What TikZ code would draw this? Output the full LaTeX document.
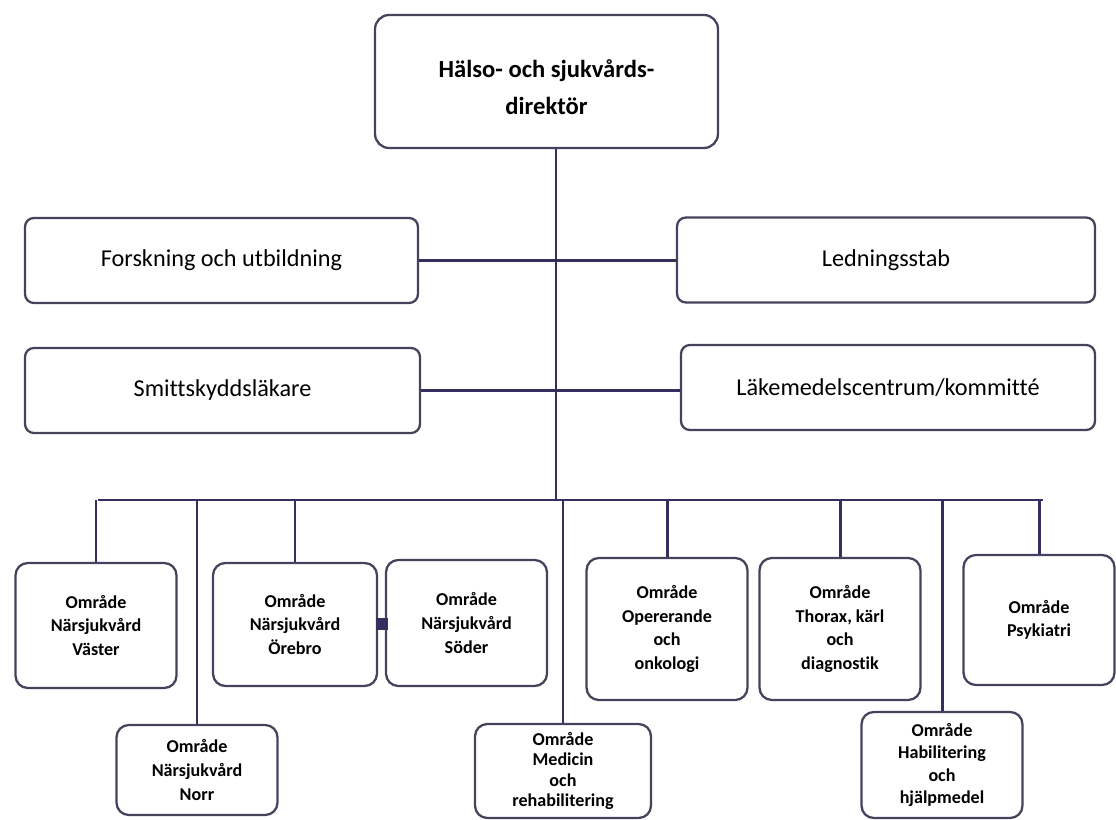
\documentclass[tikz,border=0pt]{standalone}
\usepackage{fontspec}
\setmainfont{Carlito}[Ligatures=NoCommon]
\usetikzlibrary{positioning, calc}
\definecolor{linecol}{RGB}{52,47,92}
\definecolor{boxcol}{RGB}{70,66,92}

\begin{document}
\begin{tikzpicture}[
			x=0.02cm, y=-0.02cm,
			chief/.style={draw=boxcol, line width=1.3pt, rounded corners=8pt, minimum width=6.86cm, minimum height=2.66cm, align=center, inner sep=2pt, font=\fontsize{14}{19}\selectfont\bfseries},
			staff/.style={draw=boxcol, line width=1.3pt, rounded corners=5pt, minimum height=1.7cm, align=center, inner sep=2pt, font=\fontsize{13.8}{16}\selectfont},
			area/.style={draw=boxcol, line width=1.3pt, rounded corners=7pt, minimum width=3.22cm, align=center, inner sep=2pt, font=\fontsize{10.3}{13.5}\selectfont\bfseries},
			wire/.style={draw=linecol, line width=1.7pt}
			]
			\useasboundingbox (0,0) rectangle (1116,820);
			% top
			\node[chief] (dir) at (546.5,81.5) {\rule{0pt}{0.58cm}Hälso- och sjukvårds-\\[2pt]direktör};
			\coordinate (top) at ($(dir.south)+(9.5,0)$);
			% staff units
			\node[staff, minimum width=7.86cm] (fou) at (221.5,260.5) {Forskning och utbildning};
			\node[staff, minimum width=8.36cm] (led) at (886,260) {Ledningsstab};
			\node[staff, minimum width=7.9cm] (smitt) at (222.5,390.5) {Smittskyddsläkare};
			\node[staff, minimum width=8.28cm] (lak) at (888,387.5) {Läkemedelscentrum/kommitté};
			% areas, upper row
			\node[area, minimum height=2.5cm] (vast) at (96,625.5) {Område\\Närsjukvård\\Väster};
			\node[area, minimum width=3.28cm, minimum height=2.46cm] (oreb) at (295,624.5) {Område\\Närsjukvård\\Örebro};
			\node[area, minimum height=2.52cm] (soder) at (466.5,623) {Område\\Närsjukvård\\Söder};
			\node[area, minimum height=2.84cm] (oper) at (667,629) {Område\\Opererande\\och\\onkologi};
			\node[area, minimum height=2.84cm] (thor) at (840,629) {Område\\Thorax, kärl\\och\\diagnostik};
			\node[area, minimum width=3.02cm, minimum height=2.6cm] (psyk) at (1039,620) {Område\\Psykiatri};
			% areas, lower row
			\node[area, minimum height=1.8cm] (norr) at (197,770) {Område\\Närsjukvård\\Norr};
			\node[area, minimum width=3.52cm, minimum height=1.88cm, font=\fontsize{10.3}{11.6}\selectfont\bfseries] (med) at (563,771) {Område\\Medicin\\och\\rehabilitering};
			\node[area, minimum height=2.12cm, font=\fontsize{10.3}{12.6}\selectfont\bfseries] (hab) at (942,765) {Område\\Habilitering\\och\\hjälpmedel};
			% bus
			\coordinate (busL) at (98,500);
			\coordinate (busR) at (1043,500);
			\draw[wire] (top) -- (top |- busL);
			\draw[wire] (busL) -- (busR);
			\draw[wire] (fou.east) -- (fou.east -| led.west);
			\draw[wire] (smitt.east) -- (smitt.east -| lak.west);
			\foreach \n in {vast,norr,oreb,med,oper,thor,hab,psyk} {\draw[wire] (\n.north) -- (\n.north |- busL);}
			\node[fill=linecol, minimum size=0.24cm, inner sep=0pt] (lnk) at ($(oreb.east)!0.5!(soder.west)$) {};
		\end{tikzpicture}
\end{document}
